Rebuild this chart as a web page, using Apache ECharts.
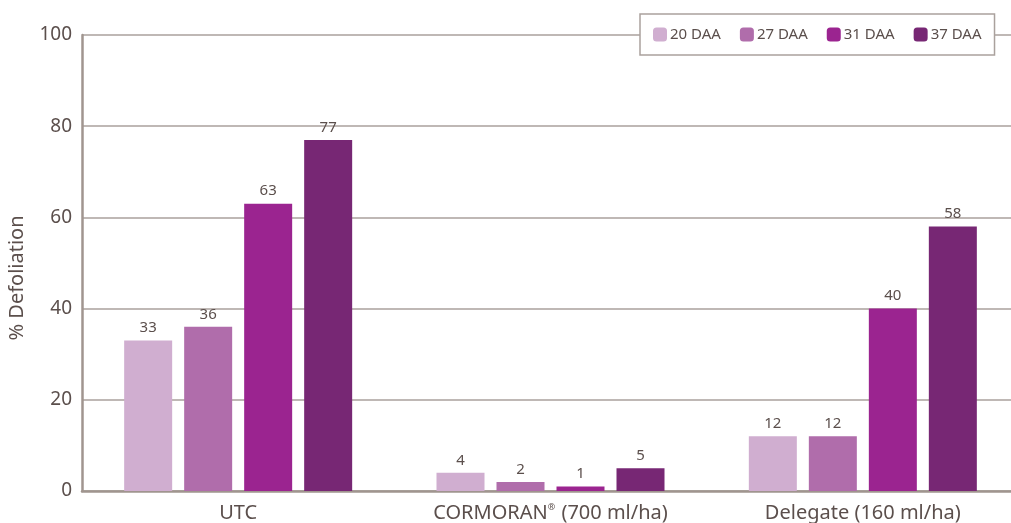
<!DOCTYPE html>
<html>
<head>
<meta charset="utf-8">
<script src="https://cdn.jsdelivr.net/npm/echarts@6/dist/echarts.min.js"></script>
<style>
  html, body { margin: 0; padding: 0; background: #fff; }
  #chart { width: 1011px; height: 523px; }
</style>
</head>
<body>
<div id="chart"></div>
<script>
// categories and series
var categories = ['UTC', 'CORMORAN\u00AE (700 ml/ha)', 'Delegate (160 ml/ha)'];
var seriesNames = ['20 DAA', '27 DAA', '31 DAA', '37 DAA'];
var daa20 = [33, 4, 12];
var daa27 = [36, 2, 12];
var daa31 = [63, 1, 40];
var daa37 = [77, 5, 58];
var colors = ['#d0aed0', '#b06dab', '#9b2490', '#772774'];

var textColor = '#5b4f4c';
var font = 'Noto Sans';

var chart = echarts.init(document.getElementById('chart'));

var makeSeries = function (name, data, i) {
    return {
        name: name,
        type: 'bar',
        data: data,
        barWidth: 48,
        barGap: '25%',
        itemStyle: { color: colors[i] },
        label: {
            show: true,
            position: 'top',
            distance: 5,
            color: textColor,
            fontFamily: font,
            fontSize: 15
        }
    };
};

var option = {
    animation: false,
    textStyle: { fontFamily: font },
    legend: {
        data: seriesNames,
        left: 640,
        top: 14,
        padding: [13, 13, 13, 13],
        itemWidth: 14,
        itemHeight: 14,
        itemGap: 19,
        backgroundColor: '#fff',
        borderColor: '#aaa19d',
        borderWidth: 1.5,
        textStyle: { color: textColor, fontSize: 15, fontFamily: font, padding: [0, 0, 0, -2] },
        z: 10
    },
    grid: {
        left: 82,
        top: 35,
        right: -8,
        height: 456,
        outerBoundsMode: 'none'
    },
    xAxis: {
        type: 'category',
        data: categories,
        axisLine: { lineStyle: { color: '#a0958f', width: 2.5 } },
        axisTick: { show: false },
        axisLabel: {
            interval: 0,
            hideOverlap: false,
            color: textColor, fontSize: 20, fontFamily: font, margin: 12,
            formatter: function (v) {
                return v.replace('\u00AE', '{sup|\u00AE}');
            },
            rich: {
                sup: { fontSize: 9, verticalAlign: 'top', padding: [0, 1, 9, 0], color: textColor, fontFamily: font }
            }
        }
    },
    yAxis: {
        type: 'value',
        min: 0,
        max: 100,
        interval: 20,
        name: '% Defoliation',
        nameLocation: 'middle',
        nameGap: 55,
        nameTextStyle: { color: textColor, fontSize: 20, fontFamily: font, padding: [0, 30, 0, 0] },
        axisLine: { show: true, lineStyle: { color: '#a0958f', width: 2.5 } },
        axisTick: { show: false },
        axisLabel: { color: textColor, fontSize: 19, fontFamily: font, margin: 10 },
        splitLine: { lineStyle: { color: '#aaa19d', width: 1.5 } }
    },
    series: [
        makeSeries(seriesNames[0], daa20, 0),
        makeSeries(seriesNames[1], daa27, 1),
        makeSeries(seriesNames[2], daa31, 2),
        makeSeries(seriesNames[3], daa37, 3)
    ]
};

chart.setOption(option);
</script>
</body>
</html>
